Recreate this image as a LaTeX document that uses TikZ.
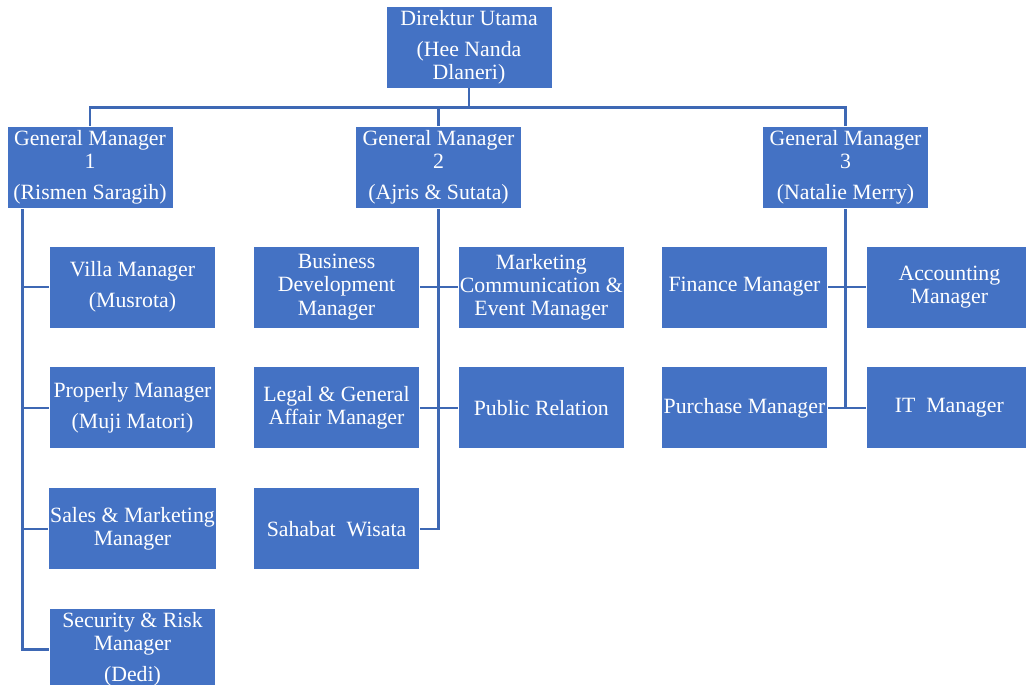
\documentclass[tikz,border=0pt]{standalone}
\usepackage{fontspec}
\setmainfont{Liberation Serif}
\usepackage{xcolor}
\definecolor{officeblue}{RGB}{68, 114, 196}
\definecolor{lineblue}{RGB}{62, 104, 180}
\usetikzlibrary{positioning, calc}

\begin{document}
\begin{tikzpicture}[
    every node/.style={font=\fontsize{15.5}{16.5}\selectfont},
    orgbox/.style={rectangle, draw=white, line width=0.6pt, fill=officeblue,
                   text=white, minimum width=4.15cm, minimum height=2.05cm,
                   inner sep=1pt, align=center},
    link/.style={draw=lineblue, line width=1.6pt}
]
    \useasboundingbox (0,0) rectangle (25.65,-17.125);

    % Top level
    \node[orgbox] (dirut) at (11.725,-1.175) {Direktur Utama\\[5.5pt](Hee Nanda\\Dlaneri)};

    % General managers
    \node[orgbox] (gm1) at (2.25,-4.1875) {General Manager\\1\\[5.5pt](Rismen Saragih)};
    \node[orgbox] (gm2) at (10.9625,-4.1875) {General Manager\\2\\[5.5pt](Ajris \& Sutata)};
    \node[orgbox] (gm3) at (21.1375,-4.1875) {General Manager\\3\\[5.5pt](Natalie Merry)};

    % Under GM 1
    \node[orgbox] (villa) at (3.3125,-7.175) {Villa Manager\\[5.5pt](Musrota)};
    \node[orgbox, below=0.95cm of villa] (prop) {Properly Manager\\[5.5pt](Muji Matori)};
    \node[orgbox, below=0.95cm of prop] (sales) {Sales \& Marketing\\Manager};
    \node[orgbox, below=0.95cm of sales] (secu) {Security \& Risk\\Manager\\[5.5pt](Dedi)};

    % Under GM 2
    \node[orgbox] (bdm) at (8.4125,-7.175) {Business\\Development\\Manager};
    \node[orgbox, right=0.95cm of bdm] (mce) {Marketing\\Communication \&\\Event Manager};
    \node[orgbox, below=0.95cm of bdm] (legal) {Legal \& General\\Affair Manager};
    \node[orgbox, right=0.95cm of legal] (pr) {Public Relation};
    \node[orgbox, below=0.95cm of legal] (sahabat) {Sahabat\ \ Wisata};

    % Under GM 3
    \node[orgbox] (fin) at (18.6125,-7.175) {Finance Manager};
    \node[orgbox, right=0.95cm of fin] (acc) {Accounting\\Manager};
    \node[orgbox, below=0.95cm of fin] (purch) {Purchase Manager};
    \node[orgbox, right=0.95cm of purch] (itm) {IT\ \ Manager};

    % Top connectors
    \draw[link] (dirut.south) -- ++(0,-0.475) coordinate (bar);
    \draw[link] (gm1.north) |- (bar) -| (gm3.north);
    \draw[link] (gm2.north) -- (gm2.north |- bar);

    % GM 1 branch
    \coordinate (t1) at ($(gm1.south west)+(0.4,0)$);
    \draw[link] (t1) |- (secu.west);
    \draw[link] (t1 |- villa.west) -- (villa.west);
    \draw[link] (t1 |- prop.west) -- (prop.west);
    \draw[link] (t1 |- sales.west) -- (sales.west);

    % GM 2 branch
    \draw[link] (gm2.south) |- (sahabat.east);
    \draw[link] (bdm.east) -- (mce.west);
    \draw[link] (legal.east) -- (pr.west);

    % GM 3 branch
    \draw[link] (gm3.south) |- (purch.east);
    \draw[link] (fin.east) -- (acc.west);
    \draw[link] (purch.east) -- (itm.west);
\end{tikzpicture}
\end{document}
